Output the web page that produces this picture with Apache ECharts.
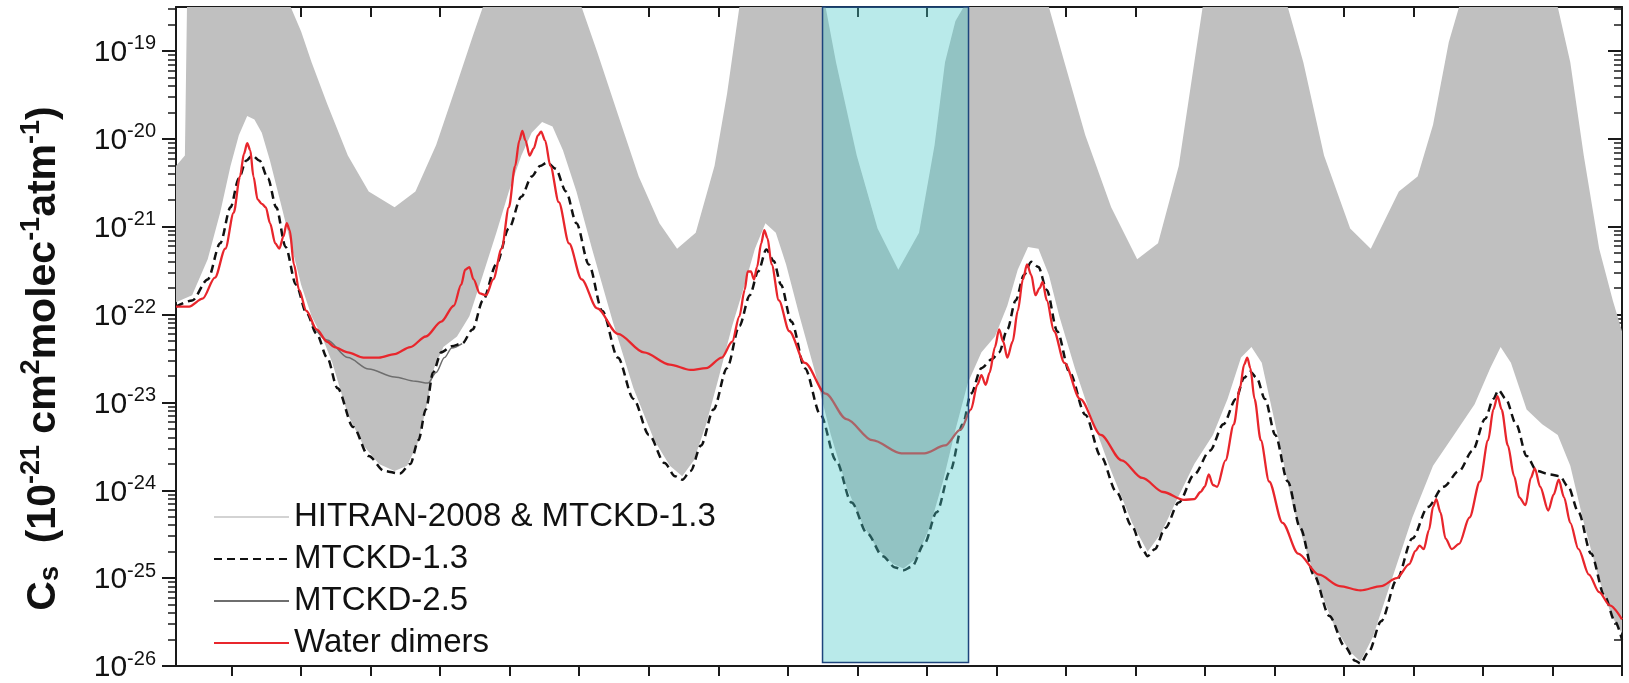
<!DOCTYPE html>
<html>
<head>
<meta charset="utf-8">
<script src="https://cdn.jsdelivr.net/npm/echarts@6/dist/echarts.min.js"></script>
<style>
html, body { margin: 0; padding: 0; background: #fff; }
#main { width: 1629px; height: 683px; }
</style>
</head>
<body>
<div id="main"></div>
<script>
// x: wavenumber (cm-1), y: log10 of Cs
var xMin = 1100, xMax = 11500;
var lgMin = -26, lgMax = -18.5;
var xTicks = [1500, 2000, 2500, 3000, 3500, 4000, 4500, 5000, 5500, 6000, 6500,
              7000, 7500, 8000, 8500, 9000, 9500, 10000, 10500, 11000, 11500];
var decades = [-26, -25, -24, -23, -22, -21, -20, -19];
var minorSteps = [2, 3, 4, 5, 6, 7, 8, 9];
var boxRange = [5750, 6800];
var boxLg = [-25.96, -18.5];

var mtckd13 = [[1100,-21.91],[1216,-21.84],[1328,-21.60],[1418,-21.19],[1492,-20.78],[1552,-20.45],
  [1604,-20.25],[1649,-20.19],[1702,-20.25],[1761,-20.45],[1821,-20.78],[1888,-21.23],[1963,-21.66],
  [2038,-21.98],[2112,-22.22],[2187,-22.49],[2262,-22.84],[2374,-23.28],[2486,-23.61],[2598,-23.78],
  [2710,-23.81],[2785,-23.70],[2844,-23.43],[2897,-23.08],[2949,-22.66],[3008,-22.43],[3083,-22.36],
  [3158,-22.33],[3233,-22.17],[3307,-21.84],[3404,-21.43],[3494,-21.02],[3584,-20.66],[3658,-20.43],
  [3718,-20.31],[3770,-20.27],[3830,-20.34],[3905,-20.60],[3980,-20.96],[4069,-21.43],[4166,-21.96],
  [4278,-22.49],[4390,-22.96],[4502,-23.37],[4614,-23.69],[4689,-23.84],[4741,-23.88],[4801,-23.78],
  [4876,-23.49],[4966,-23.08],[5063,-22.61],[5152,-22.13],[5227,-21.78],[5287,-21.51],[5346,-21.26],
  [5399,-21.39],[5451,-21.66],[5526,-22.08],[5623,-22.61],[5735,-23.14],[5847,-23.66],[5959,-24.14],
  [6071,-24.49],[6183,-24.75],[6272,-24.88],[6332,-24.91],[6392,-24.87],[6482,-24.61],[6571,-24.25],
  [6668,-23.78],[6758,-23.25],[6818,-22.90],[6893,-22.61],[6967,-22.51],[7020,-22.43],[7079,-22.17],
  [7139,-21.84],[7199,-21.55],[7251,-21.40],[7303,-21.46],[7363,-21.72],[7438,-22.19],[7527,-22.66],
  [7640,-23.14],[7751,-23.61],[7864,-24.02],[7976,-24.41],[8050,-24.67],[8088,-24.75],[8140,-24.67],
  [8215,-24.43],[8312,-24.14],[8424,-23.82],[8536,-23.55],[8633,-23.25],[8723,-22.96],[8782,-22.72],
  [8827,-22.65],[8872,-22.72],[8932,-22.96],[9006,-23.37],[9096,-23.90],[9186,-24.43],[9283,-24.96],
  [9395,-25.43],[9507,-25.78],[9581,-25.94],[9619,-25.97],[9678,-25.84],[9768,-25.49],[9880,-25.02],
  [9992,-24.55],[10104,-24.19],[10216,-23.96],[10328,-23.78],[10425,-23.55],[10515,-23.19],[10575,-22.96],
  [10612,-22.86],[10664,-22.96],[10739,-23.25],[10814,-23.61],[10888,-23.78],[10978,-23.82],[11053,-23.84],
  [11113,-23.96],[11187,-24.25],[11277,-24.72],[11374,-25.20],[11449,-25.49],[11500,-25.70]];

var mtckd25 = [[2075,-22.10],[2187,-22.29],[2336,-22.49],[2486,-22.62],[2672,-22.71],[2822,-22.76],
  [2912,-22.78],[2971,-22.66],[3031,-22.49],[3083,-22.38],[3158,-22.33]];

var dimers = [[1100,-21.91],[1194,-21.91],[1291,-21.82],[1380,-21.58],[1455,-21.25],[1515,-20.84],
  [1560,-20.43],[1589,-20.17],[1612,-20.05],[1634,-20.13],[1657,-20.43],[1687,-20.69],[1717,-20.74],
  [1746,-20.78],[1776,-20.96],[1814,-21.19],[1843,-21.25],[1873,-21.11],[1896,-20.96],[1918,-21.04],
  [1948,-21.43],[1985,-21.72],[2038,-21.96],[2112,-22.17],[2187,-22.31],[2239,-22.37],[2336,-22.43],
  [2448,-22.49],[2560,-22.49],[2672,-22.45],[2785,-22.37],[2897,-22.25],[3008,-22.08],[3098,-21.90],
  [3151,-21.66],[3180,-21.49],[3210,-21.46],[3240,-21.60],[3285,-21.76],[3330,-21.78],[3382,-21.60],
  [3442,-21.25],[3494,-20.78],[3539,-20.31],[3569,-20.02],[3591,-19.91],[3614,-20.02],[3643,-20.19],
  [3673,-20.11],[3703,-19.96],[3726,-19.92],[3755,-20.02],[3793,-20.31],[3853,-20.72],[3927,-21.19],
  [4017,-21.60],[4129,-21.93],[4278,-22.22],[4465,-22.43],[4652,-22.57],[4801,-22.63],[4913,-22.61],
  [5025,-22.49],[5100,-22.31],[5152,-22.02],[5190,-21.72],[5212,-21.51],[5235,-21.51],[5257,-21.60],
  [5279,-21.46],[5309,-21.19],[5331,-21.04],[5354,-21.13],[5384,-21.43],[5436,-21.84],[5511,-22.19],
  [5623,-22.55],[5772,-22.90],[5922,-23.19],[6108,-23.43],[6317,-23.58],[6482,-23.58],[6631,-23.49],
  [6743,-23.31],[6818,-23.08],[6863,-22.80],[6893,-22.69],[6923,-22.80],[6952,-22.66],[6990,-22.37],
  [7020,-22.17],[7050,-22.31],[7079,-22.49],[7117,-22.31],[7154,-21.96],[7191,-21.60],[7221,-21.43],
  [7251,-21.55],[7281,-21.78],[7311,-21.70],[7333,-21.63],[7363,-21.84],[7415,-22.19],[7490,-22.55],
  [7602,-22.96],[7751,-23.37],[7901,-23.66],[8050,-23.86],[8200,-24.02],[8349,-24.11],[8424,-24.10],
  [8469,-24.02],[8499,-23.96],[8528,-23.82],[8558,-23.94],[8588,-23.96],[8648,-23.66],[8708,-23.25],
  [8752,-22.84],[8782,-22.57],[8805,-22.49],[8827,-22.61],[8857,-22.96],[8902,-23.43],[8962,-23.90],
  [9058,-24.37],[9171,-24.72],[9320,-24.96],[9469,-25.09],[9619,-25.14],[9768,-25.09],[9880,-25.00],
  [9970,-24.84],[10015,-24.69],[10044,-24.63],[10074,-24.67],[10112,-24.45],[10141,-24.19],[10164,-24.10],
  [10194,-24.25],[10231,-24.55],[10276,-24.67],[10328,-24.61],[10403,-24.31],[10478,-23.90],[10537,-23.43],
  [10575,-23.08],[10605,-22.93],[10634,-23.08],[10679,-23.49],[10724,-23.84],[10761,-24.08],[10806,-24.17],
  [10844,-23.86],[10873,-23.75],[10911,-23.96],[10970,-24.23],[11008,-24.05],[11045,-23.88],[11083,-24.08],
  [11128,-24.37],[11187,-24.67],[11262,-24.96],[11336,-25.16],[11412,-25.31],[11500,-25.47]];

// HITRAN line spectrum: lower and upper edge of the grey band
var hitranLow = [[1100,-21.86],[1216,-21.78],[1328,-21.37],[1418,-20.84],[1492,-20.31],[1552,-19.96],
  [1612,-19.74],[1664,-19.78],[1717,-19.93],[1776,-20.25],[1851,-20.72],[1925,-21.19],[2000,-21.66],
  [2075,-22.02],[2150,-22.25],[2224,-22.55],[2336,-23.14],[2448,-23.49],[2560,-23.70],[2672,-23.78],
  [2762,-23.72],[2837,-23.47],[2897,-23.08],[2956,-22.61],[3023,-22.37],[3121,-22.25],[3210,-22.02],
  [3307,-21.55],[3404,-21.07],[3494,-20.60],[3584,-20.19],[3658,-19.93],[3733,-19.81],[3808,-19.86],
  [3883,-20.13],[3980,-20.60],[4092,-21.25],[4241,-22.08],[4390,-22.84],[4540,-23.43],[4652,-23.72],
  [4741,-23.84],[4824,-23.66],[4913,-23.25],[5003,-22.72],[5100,-22.13],[5190,-21.66],[5264,-21.25],
  [5339,-20.96],[5414,-21.07],[5488,-21.43],[5585,-22.02],[5697,-22.66],[5810,-23.37],[5922,-23.96],
  [6033,-24.37],[6146,-24.67],[6258,-24.84],[6332,-24.89],[6422,-24.78],[6519,-24.43],[6616,-23.90],
  [6706,-23.31],[6795,-22.78],[6893,-22.43],[6990,-22.25],[7079,-21.90],[7154,-21.49],[7228,-21.23],
  [7303,-21.25],[7378,-21.55],[7453,-22.02],[7565,-22.61],[7677,-23.14],[7826,-23.78],[7976,-24.37],
  [8088,-24.70],[8185,-24.49],[8289,-24.14],[8424,-23.70],[8558,-23.37],[8663,-22.96],[8760,-22.49],
  [8835,-22.37],[8909,-22.55],[9006,-23.25],[9134,-24.19],[9283,-24.96],[9432,-25.55],[9545,-25.84],
  [9619,-25.95],[9708,-25.67],[9843,-25.02],[9992,-24.31],[10141,-23.72],[10291,-23.37],[10440,-23.02],
  [10552,-22.61],[10627,-22.37],[10701,-22.55],[10814,-23.08],[10926,-23.25],[11038,-23.37],[11128,-23.72],
  [11225,-24.37],[11336,-25.02],[11426,-25.43],[11500,-25.63]];

var hitranTop = [[1100,-20.31],[1164,-20.19],[1179,-18.5],[1925,-18.5],[2000,-18.78],[2075,-19.13],
  [2187,-19.60],[2336,-20.19],[2486,-20.60],[2672,-20.78],[2822,-20.60],[2971,-20.07],[3121,-19.37],
  [3233,-18.84],[3307,-18.5],[4017,-18.5],[4129,-19.01],[4278,-19.72],[4428,-20.43],[4577,-20.96],
  [4704,-21.25],[4838,-21.07],[4973,-20.31],[5063,-19.49],[5152,-18.5],[5772,-18.5],[5847,-19.13],
  [5996,-20.19],[6146,-21.02],[6295,-21.49],[6444,-21.07],[6556,-20.07],[6631,-19.13],[6706,-18.66],
  [6765,-18.5],[7378,-18.5],[7490,-19.13],[7640,-19.96],[7826,-20.78],[8013,-21.37],[8163,-21.19],
  [8312,-20.31],[8424,-19.13],[8484,-18.5],[9096,-18.5],[9208,-19.13],[9357,-20.19],[9545,-21.02],
  [9693,-21.25],[9895,-20.60],[10030,-20.43],[10141,-19.84],[10254,-18.90],[10328,-18.5],
  [11038,-18.5],[11128,-19.13],[11225,-20.19],[11336,-21.25],[11434,-21.84],[11500,-22.19]];

function toPts(arr) {
    return arr.map(function (p) { return [p[0], Math.pow(10, p[1])]; });
}

var yMin = Math.pow(10, lgMin) * 0.9999;
var yMax = Math.pow(10, lgMax);
var yMajor = decades.map(function (e) { return Math.pow(10, e); });
var yMinor = [];
decades.forEach(function (e) {
    minorSteps.forEach(function (k) {
        var v = k * Math.pow(10, e);
        if (v < yMax) yMinor.push(v);
    });
});

var font = 'Liberation Sans, Arial, sans-serif';
var axisColor = '#1a1a1a';

function yAxisBase(side) {
    return {
        type: 'log',
        logBase: 10,
        min: yMin,
        max: yMax,
        position: side,
        splitLine: {show: false},
        axisLabel: {show: false},
        axisLine: {show: false}
    };
}

var yLeft = yAxisBase('left');
yLeft.axisLine = {show: true, lineStyle: {color: axisColor, width: 2}};
yLeft.axisTick = {show: true, customValues: yMajor, length: 14, lineStyle: {color: axisColor, width: 2}};
yLeft.axisLabel = {
    show: true,
    customValues: yMajor,
    margin: 20,
    formatter: function (v) {
        var e = Math.round(Math.log(v) / Math.LN10);
        return '{b|10}{s|' + e + '}';
    },
    rich: {
        b: {fontSize: 30, fontFamily: font, color: '#111', lineHeight: 34, verticalAlign: 'bottom'},
        s: {fontSize: 20, fontFamily: font, color: '#111', lineHeight: 34, verticalAlign: 'top'}
    }
};
yLeft.name = '{c|C}{sub|s}{t|  (10}{sup|-21}{t| cm}{sup|2}{t|molec}{sup|-1}{t|atm}{sup|-1}{t|)}';
yLeft.nameLocation = 'middle';
yLeft.nameRotate = 90;
yLeft.nameGap = 112;
yLeft.nameTextStyle = {
    padding: [0, 44, 0, 0],
    rich: {
        c: {fontSize: 41, fontWeight: 'bold', fontFamily: font, color: '#111', lineHeight: 46, verticalAlign: 'bottom'},
        sub: {fontSize: 27, fontWeight: 'bold', fontFamily: font, color: '#111', lineHeight: 40, verticalAlign: 'bottom'},
        t: {fontSize: 41, fontWeight: 'bold', fontFamily: font, color: '#111', lineHeight: 46, verticalAlign: 'bottom'},
        sup: {fontSize: 27, fontWeight: 'bold', fontFamily: font, color: '#111', lineHeight: 46, verticalAlign: 'top'}
    }
};

var yLeftMinor = yAxisBase('left');
yLeftMinor.axisTick = {show: true, customValues: yMinor, length: 8, lineStyle: {color: axisColor, width: 1.5}};

var yRight = yAxisBase('right');
yRight.axisLine = {show: true, lineStyle: {color: axisColor, width: 2}};
yRight.axisTick = {show: true, inside: true, customValues: yMajor, length: 14, lineStyle: {color: axisColor, width: 2}};

var yRightMinor = yAxisBase('right');
yRightMinor.axisTick = {show: true, inside: true, customValues: yMinor, length: 8, lineStyle: {color: axisColor, width: 1.5}};

var chart = echarts.init(document.getElementById('main'));
chart.setOption({
    backgroundColor: '#fff',
    animation: false,
    grid: {left: 176, right: 7, top: 7, bottom: 14},
    legend: {
        orient: 'vertical',
        left: 208,
        top: 494,
        itemWidth: 75,
        itemHeight: 14,
        itemGap: 6,
        selectedMode: false,
        textStyle: {fontSize: 33, fontFamily: font, color: '#111', lineHeight: 36},
        data: [
            {name: 'HITRAN-2008 & MTCKD-1.3', icon: 'path://M0,0H100V2H0Z', itemStyle: {color: '#c4c4c4'}},
            {name: 'MTCKD-1.3', itemStyle: {opacity: 0}},
            {name: 'MTCKD-2.5', itemStyle: {opacity: 0}},
            {name: 'Water dimers', itemStyle: {opacity: 0}}
        ]
    },
    xAxis: [{
        type: 'value', min: xMin, max: xMax, position: 'bottom',
        splitLine: {show: false},
        axisLine: {show: true, onZero: false, lineStyle: {color: axisColor, width: 2}},
        axisTick: {show: true, customValues: xTicks, length: 10, lineStyle: {color: axisColor, width: 2}},
        axisLabel: {show: false}
    }, {
        type: 'value', min: xMin, max: xMax, position: 'top',
        splitLine: {show: false},
        axisLine: {show: true, onZero: false, lineStyle: {color: axisColor, width: 2}},
        axisTick: {show: true, inside: true, customValues: xTicks, length: 10, lineStyle: {color: axisColor, width: 2}},
        axisLabel: {show: false}
    }],
    yAxis: [yLeft, yLeftMinor, yRight, yRightMinor],
    series: [{
        name: 'HITRAN-2008 & MTCKD-1.3',
        type: 'custom',
        silent: true,
        data: [[xMin, yMax]],
        renderItem: function (params, api) {
            var top = toPts(hitranTop).map(function (p) { return api.coord(p); });
            var low = toPts(hitranLow).reverse().map(function (p) { return api.coord(p); });
            return {
                type: 'polygon',
                shape: {points: top.concat(low)},
                style: {fill: '#c0c0c0'}
            };
        }
    }, {
        name: 'MTCKD-2.5',
        type: 'line',
        data: toPts(mtckd25),
        symbol: 'none',
        smooth: 0.3,
        smoothMonotone: 'x',
        itemStyle: {color: '#6e6e6e'},
        lineStyle: {color: '#6e6e6e', width: 1.5}
    }, {
        name: 'MTCKD-1.3',
        type: 'line',
        data: toPts(mtckd13),
        symbol: 'none',
        smooth: 0.3,
        smoothMonotone: 'x',
        itemStyle: {color: '#111'},
        lineStyle: {color: '#111', width: 2.5, type: [8, 5]}
    }, {
        name: 'Water dimers',
        type: 'line',
        data: toPts(dimers),
        symbol: 'none',
        smooth: 0.3,
        smoothMonotone: 'x',
        itemStyle: {color: '#e8262c'},
        lineStyle: {color: '#e8262c', width: 2.3}
    }, {
        type: 'custom',
        silent: true,
        z: 5,
        encode: {x: [0, 1]},
        data: [boxRange],
        renderItem: function (params, api) {
            var p0 = api.coord([api.value(0), Math.pow(10, boxLg[1])]);
            var p1 = api.coord([api.value(1), Math.pow(10, boxLg[0])]);
            return {
                type: 'rect',
                shape: {x: p0[0], y: p0[1], width: p1[0] - p0[0], height: p1[1] - p0[1]},
                style: {fill: 'rgba(70,200,200,0.38)', stroke: '#1d447c', lineWidth: 1.5}
            };
        }
    }]
});
</script>
</body>
</html>
